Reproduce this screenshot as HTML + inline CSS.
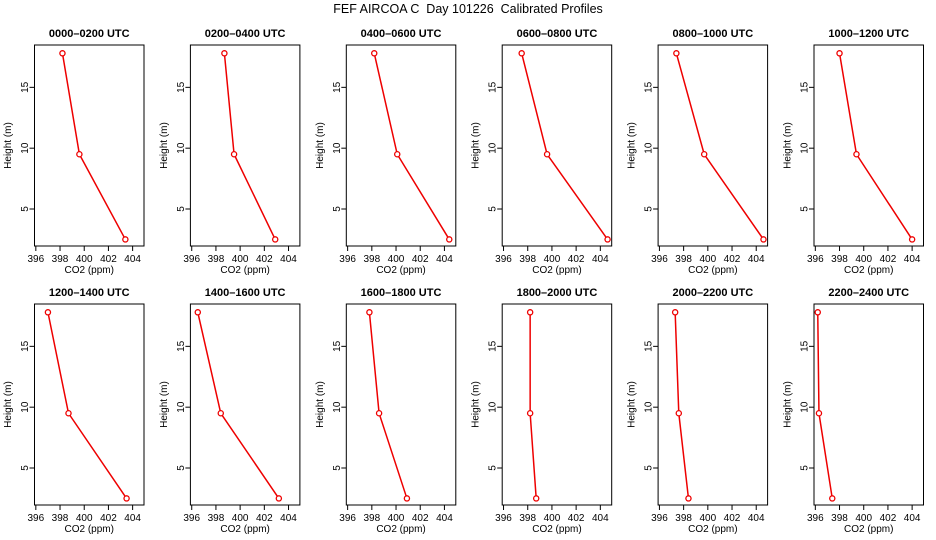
<!DOCTYPE html>
<html><head><meta charset="utf-8"><style>
html,body{margin:0;padding:0;background:#fff;}
svg{display:block;font-family:"Liberation Sans",sans-serif;}
</style></head><body>
<svg id="chart" width="936" height="540" viewBox="0 0 936 540" xmlns="http://www.w3.org/2000/svg">
<text x="468" y="13" text-anchor="middle" font-size="12.5" style="white-space:pre">FEF AIRCOA C  Day 101226  Calibrated Profiles</text>
</svg>
<script>
const panelTitles = ["0000–0200 UTC","0200–0400 UTC","0400–0600 UTC","0600–0800 UTC","0800–1000 UTC","1000–1200 UTC","1200–1400 UTC","1400–1600 UTC","1600–1800 UTC","1800–2000 UTC","2000–2200 UTC","2200–2400 UTC"];
const heights = [17.8, 9.5, 2.5];
const co2Values = [
  [398.2, 399.6, 403.4],
  [398.7, 399.5, 402.9],
  [398.2, 400.1, 404.4],
  [397.5, 399.6, 404.6],
  [397.4, 399.7, 404.6],
  [398.0, 399.4, 404.0],
  [397.0, 398.7, 403.5],
  [396.5, 398.4, 403.2],
  [397.8, 398.6, 400.9],
  [398.2, 398.2, 398.7],
  [397.3, 397.6, 398.4],
  [396.2, 396.3, 397.4]
];
const xTicks = [396, 398, 400, 402, 404];
const yTicks = [5, 10, 15];

const svg = document.getElementById('chart');
const NS = 'http://www.w3.org/2000/svg';
function mk(tag, attrs, parent) {
  const e = document.createElementNS(NS, tag);
  for (const k in attrs) e.setAttribute(k, attrs[k]);
  (parent || svg).appendChild(e);
  return e;
}
const W = 109.5, H = 201;
const xmin = 395.89, xmax = 404.94, ymin = 1.96, ymax = 18.48;

panelTitles.forEach((title, i) => {
  const col = i % 6, row = Math.floor(i / 6);
  const L = 34.5 + 155.9 * col, T = row === 0 ? 45 : 304;
  const xs = v => L + (v - xmin) / (xmax - xmin) * W;
  const ys = v => T + H - (v - ymin) / (ymax - ymin) * H;
  const g = mk('g', {});
  
  

  const t = mk('text', {x: L + W / 2, y: T - 8, 'text-anchor': 'middle', 'font-size': '11', 'font-weight': 'bold'}, g);
  t.textContent = title;
  
  

  const box = mk('rect', {x: L, y: T, width: W, height: H, fill: 'none', stroke: '#000', 'stroke-width': 1}, g);
  
  

  xTicks.forEach(v => {
    const x = xs(v);
    const tk = mk('line', {x1: x, x2: x, y1: T + H, y2: T + H + 5, stroke: '#000'}, g);
    
    
    const lb = mk('text', {x: x, y: T + H + 16, 'text-anchor': 'middle', 'font-size': '10'}, g);
    lb.textContent = v;
    
    
  });
  yTicks.forEach(v => {
    const y = ys(v);
    const tk = mk('line', {x1: L - 5, x2: L, y1: y, y2: y, stroke: '#000'}, g);
    
    
    const lb = mk('text', {x: L - 9, y: y, 'text-anchor': 'middle', 'font-size': '10', transform: `rotate(-90 ${L - 9} ${y})`, 'dominant-baseline': 'central'}, g);
    lb.textContent = v;
    
    
  });
  const xl = mk('text', {x: L + W / 2, y: T + H + 27, 'text-anchor': 'middle', 'font-size': '10'}, g);
  xl.textContent = 'CO2 (ppm)';
  
  
  const yx = L - 26, yy = T + H / 2;
  const yl = mk('text', {x: yx, y: yy, 'text-anchor': 'middle', 'font-size': '10', transform: `rotate(-90 ${yx} ${yy})`, 'dominant-baseline': 'central'}, g);
  yl.textContent = 'Height (m)';
  
  

  const pts = co2Values[i].map((v, j) => [xs(v), ys(heights[j])]);
  const line = mk('polyline', {points: pts.map(p => p.join(',')).join(' '), fill: 'none', stroke: '#e00', 'stroke-width': 1.5}, g);
  
  
  pts.forEach(p => {
    const c = mk('circle', {cx: p[0], cy: p[1], r: 2.6, fill: '#fff', stroke: '#e00', 'stroke-width': 1.3}, g);
    
    
  });
});
</script>
</body></html>
